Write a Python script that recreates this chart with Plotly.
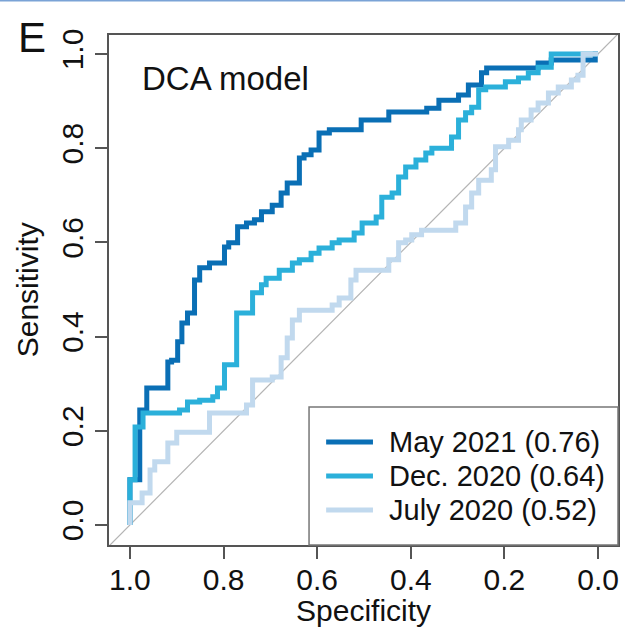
import plotly.graph_objects as go

# ---- data ----
series_names = ["May 2021 (0.76)", "Dec. 2020 (0.64)", "July 2020 (0.52)"]
series_colors = ["#0a6fb5", "#2bb0da", "#c1d9ee"]

may_spec = [1.000, 1.000, 0.979, 0.979, 0.964, 0.964, 0.919, 0.919, 0.911, 0.911, 0.898, 0.898,
            0.889, 0.889, 0.877, 0.877, 0.862, 0.862, 0.851, 0.851, 0.830, 0.830, 0.798, 0.798,
            0.789, 0.789, 0.770, 0.770, 0.751, 0.751, 0.734, 0.734, 0.719, 0.719, 0.696, 0.696,
            0.677, 0.677, 0.664, 0.664, 0.638, 0.638, 0.628, 0.628, 0.613, 0.613, 0.596, 0.596,
            0.574, 0.574, 0.506, 0.506, 0.447, 0.447, 0.366, 0.366, 0.340, 0.340, 0.298, 0.298,
            0.277, 0.277, 0.249, 0.249, 0.238, 0.238, 0.128, 0.128, 0.100, 0.100, 0.006, 0.006, 0.000]
may_sens = [0.000, 0.096, 0.096, 0.244, 0.244, 0.291, 0.291, 0.346, 0.346, 0.350, 0.350, 0.389,
            0.389, 0.429, 0.429, 0.450, 0.450, 0.520, 0.520, 0.546, 0.546, 0.556, 0.556, 0.590,
            0.590, 0.599, 0.599, 0.633, 0.633, 0.641, 0.641, 0.648, 0.648, 0.665, 0.665, 0.679,
            0.679, 0.705, 0.705, 0.726, 0.726, 0.779, 0.779, 0.786, 0.786, 0.796, 0.796, 0.832,
            0.832, 0.839, 0.839, 0.860, 0.860, 0.877, 0.877, 0.885, 0.885, 0.902, 0.902, 0.913,
            0.913, 0.934, 0.934, 0.960, 0.960, 0.970, 0.970, 0.981, 0.981, 0.987, 0.987, 1.000, 1.000]

dec_spec = [1.000, 1.000, 0.989, 0.989, 0.972, 0.972, 0.894, 0.894, 0.877, 0.877, 0.851, 0.851,
            0.823, 0.823, 0.813, 0.813, 0.798, 0.798, 0.772, 0.772, 0.738, 0.738, 0.719, 0.719,
            0.709, 0.709, 0.681, 0.681, 0.653, 0.653, 0.638, 0.638, 0.613, 0.613, 0.596, 0.596,
            0.568, 0.568, 0.553, 0.553, 0.521, 0.521, 0.504, 0.504, 0.474, 0.474, 0.462, 0.462,
            0.440, 0.440, 0.426, 0.426, 0.411, 0.411, 0.389, 0.389, 0.368, 0.368, 0.355, 0.355,
            0.313, 0.313, 0.298, 0.298, 0.283, 0.283, 0.270, 0.270, 0.255, 0.255, 0.240, 0.240,
            0.198, 0.198, 0.170, 0.170, 0.149, 0.149, 0.128, 0.128, 0.100, 0.100, 0.000]
dec_sens = [0.000, 0.096, 0.096, 0.208, 0.208, 0.238, 0.238, 0.244, 0.244, 0.261, 0.261, 0.265,
            0.265, 0.272, 0.272, 0.291, 0.291, 0.340, 0.340, 0.450, 0.450, 0.493, 0.493, 0.510,
            0.510, 0.524, 0.524, 0.541, 0.541, 0.556, 0.556, 0.563, 0.563, 0.577, 0.577, 0.588,
            0.588, 0.599, 0.599, 0.605, 0.605, 0.620, 0.620, 0.641, 0.641, 0.654, 0.654, 0.696,
            0.696, 0.705, 0.705, 0.739, 0.739, 0.760, 0.760, 0.775, 0.775, 0.790, 0.790, 0.800,
            0.800, 0.824, 0.824, 0.860, 0.860, 0.875, 0.875, 0.887, 0.887, 0.924, 0.924, 0.930,
            0.930, 0.941, 0.941, 0.949, 0.949, 0.960, 0.960, 0.972, 0.972, 1.000, 1.000]

jul_spec = [1.000, 1.000, 0.974, 0.974, 0.957, 0.957, 0.947, 0.947, 0.919, 0.919, 0.900, 0.900,
            0.830, 0.830, 0.751, 0.751, 0.738, 0.738, 0.696, 0.696, 0.677, 0.677, 0.664, 0.664,
            0.653, 0.653, 0.638, 0.638, 0.568, 0.568, 0.553, 0.553, 0.528, 0.528, 0.517, 0.517,
            0.447, 0.447, 0.426, 0.426, 0.411, 0.411, 0.398, 0.398, 0.377, 0.377, 0.304, 0.304,
            0.283, 0.283, 0.270, 0.270, 0.255, 0.255, 0.228, 0.228, 0.219, 0.219, 0.191, 0.191,
            0.170, 0.170, 0.164, 0.164, 0.143, 0.143, 0.128, 0.128, 0.106, 0.106, 0.085, 0.085,
            0.057, 0.057, 0.043, 0.043, 0.032, 0.032, 0.000]
jul_sens = [0.000, 0.047, 0.047, 0.068, 0.068, 0.117, 0.117, 0.134, 0.134, 0.174, 0.174, 0.197,
            0.197, 0.238, 0.238, 0.255, 0.255, 0.308, 0.308, 0.314, 0.314, 0.355, 0.355, 0.397,
            0.397, 0.435, 0.435, 0.456, 0.456, 0.467, 0.467, 0.482, 0.482, 0.520, 0.520, 0.541,
            0.541, 0.563, 0.563, 0.599, 0.599, 0.605, 0.605, 0.616, 0.616, 0.626, 0.626, 0.641,
            0.641, 0.675, 0.675, 0.705, 0.705, 0.732, 0.732, 0.754, 0.754, 0.803, 0.803, 0.817,
            0.817, 0.839, 0.839, 0.860, 0.860, 0.881, 0.881, 0.896, 0.896, 0.917, 0.917, 0.930,
            0.930, 0.945, 0.945, 0.955, 0.955, 1.000, 1.000]

tick_vals = [0.0, 0.2, 0.4, 0.6, 0.8, 1.0]
tick_text = ["0.0", "0.2", "0.4", "0.6", "0.8", "1.0"]
diag_x = [1.1, -0.1]
diag_y = [-0.1, 1.1]

FONT = "Liberation Sans, Arial, Helvetica, sans-serif"

fig = go.Figure()
fig.add_trace(go.Scatter(x=diag_x, y=diag_y, mode="lines",
                         line=dict(color="#b4b4b4", width=1.2), showlegend=False, hoverinfo="skip"))
for sx, sy, nm, col in [(may_spec, may_sens, series_names[0], series_colors[0]),
                        (dec_spec, dec_sens, series_names[1], series_colors[1]),
                        (jul_spec, jul_sens, series_names[2], series_colors[2])]:
    fig.add_trace(go.Scatter(x=sx, y=sy, mode="lines", name=nm,
                             line=dict(color=col, width=5), showlegend=False))

axis_common = dict(
    showgrid=False, zeroline=False, showline=True, mirror=True,
    linecolor="#555555", linewidth=1.5,
    ticks="outside", ticklen=12, tickwidth=1.5, tickcolor="#555555",
    tickvals=tick_vals, ticktext=tick_text,
    tickfont=dict(family=FONT, size=30, color="#111111"),
)
fig.update_xaxes(range=[1.0447, -0.0426], ticklabelstandoff=-5, **axis_common)
fig.update_yaxes(range=[-0.0425, 1.0403], tickangle=-90, **axis_common)

# manual legend
L, R, B, T = 0.393, 1.0, 0.0, 0.2706
shapes = [dict(type="rect", xref="paper", yref="paper", x0=L, x1=R, y0=B, y1=T,
               line=dict(color="#777777", width=1.5), fillcolor="white", layer="above")]
rows = [0.202, 0.1353, 0.0686]
annotations = []
for ry, nm, col in zip(rows, series_names, series_colors):
    shapes.append(dict(type="line", xref="paper", yref="paper", x0=0.4266, x1=0.5186,
                       y0=ry, y1=ry, line=dict(color=col, width=5), layer="above"))
    annotations.append(dict(xref="paper", yref="paper", x=0.546, y=ry, text=nm,
                            showarrow=False, xanchor="left", yanchor="middle",
                            font=dict(family=FONT, size=29, color="#111111")))
# top border artifact line
shapes.append(dict(type="line", xref="paper", yref="paper", x0=-0.22, x1=1.02,
                   y0=1.0676, y1=1.0676, line=dict(color="#7aa3d6", width=2)))

annotations += [
    dict(xref="x", yref="y", x=0.979, y=0.949, text="DCA model", showarrow=False,
         xanchor="left", yanchor="middle", font=dict(family=FONT, size=33, color="#111111")),
    dict(xref="paper", yref="paper", x=-0.182, y=0.996, text="E", showarrow=False,
         xanchor="left", yanchor="middle", font=dict(family=FONT, size=42, color="#111111")),
    dict(xref="paper", yref="paper", x=-0.1605, y=0.5, text="Sensitivity", showarrow=False,
         textangle=-90, xanchor="center", yanchor="middle",
         font=dict(family=FONT, size=30, color="#111111")),
    dict(xref="paper", yref="paper", x=0.5, y=-0.1275, text="Specificity", showarrow=False,
         xanchor="center", yanchor="middle", font=dict(family=FONT, size=30, color="#111111")),
]

fig.update_layout(
    width=625, height=632,
    margin=dict(l=109, r=5, t=35, b=87, pad=0),
    paper_bgcolor="white", plot_bgcolor="white",
    shapes=shapes, annotations=annotations, showlegend=False,
)

fig.write_html("out.html", config={"displayModeBar": False},
               post_script="document.body.style.margin='0px';")
